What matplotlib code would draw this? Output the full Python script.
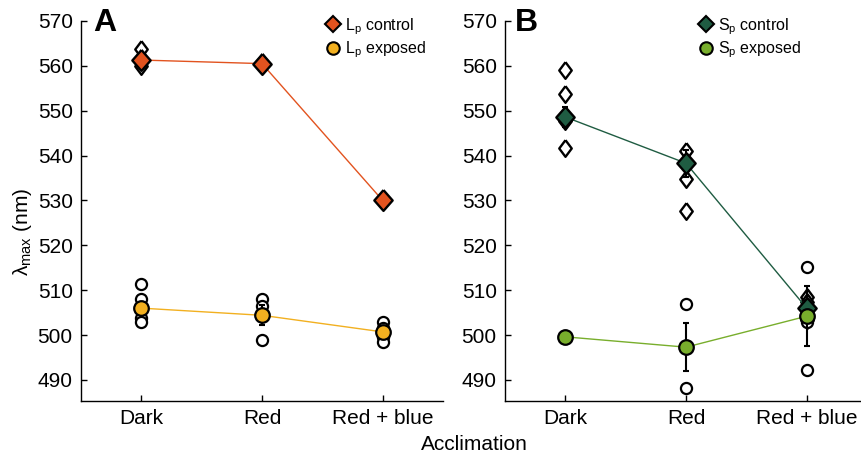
import matplotlib
matplotlib.use("Agg")
import matplotlib.pyplot as plt
from matplotlib.lines import Line2D

plt.rcParams['font.family'] = ['Liberation Sans', 'DejaVu Sans']
plt.rcParams['mathtext.fontset'] = 'custom'
plt.rcParams['mathtext.rm'] = 'Liberation Sans'
plt.rcParams['mathtext.it'] = 'Liberation Sans:italic'

categories = ['Dark', 'Red', 'Red + blue']
yticks = [490, 500, 510, 520, 530, 540, 550, 560, 570]

# Panel A: Lp
lp_control_pts = [[563.7, 561.7, 561.0, 560.0], [560.6, 560.3, 560.8], [530.2, 529.8, 530.0]]
lp_control_mean = [561.3, 560.5, 530.0]
lp_control_err = [0.8, 0.3, 0.2]
lp_exposed_pts = [[511.3, 508.1, 506.1, 503.9, 502.9], [508.1, 506.4, 504.4, 499.0], [502.9, 501.5, 499.5, 498.4]]
lp_exposed_mean = [506.0, 504.4, 500.7]
lp_exposed_err = [1.4, 2.2, 0.9]

# Panel B: Sp
sp_control_pts = [[559.0, 553.7, 548.6, 547.8, 541.6], [541.1, 538.3, 534.7, 527.6], [508.5, 507.4, 505.5, 503.3]]
sp_control_mean = [548.6, 538.3, 506.0]
sp_control_err = [2.2, 3.0, 1.5]
sp_exposed_pts = [[499.8, 499.5, 499.6], [506.9, 497.3, 488.2], [515.1, 504.5, 503.0, 492.3]]
sp_exposed_mean = [499.6, 497.3, 504.2]
sp_exposed_err = [0.3, 5.4, 6.7]

c_lp_ctrl = '#E2531F'
c_lp_exp = '#F2B020'
c_sp_ctrl = '#1F5C42'
c_sp_exp = '#78AE2C'

W, H = 861, 457
fig = plt.figure(figsize=(W / 100, H / 100), dpi=100)

thin_d = [(0, 1), (0.75, 0), (0, -1), (-0.75, 0), (0, 1)]
mean_d = [(0, 1), (0.88, 0), (0, -1), (-0.88, 0), (0, 1)]


def panel(ax, ctrl_pts, ctrl_mean, ctrl_err, exp_pts, exp_mean, exp_err, cc, ce, lab_c, lab_e):
    x = [1, 2, 3]
    for xi, pts in zip(x, ctrl_pts):
        ax.plot([xi] * len(pts), pts, linestyle='none', marker=thin_d, ms=12,
                mfc='white', mec='black', mew=1.7, zorder=2)
    for xi, pts in zip(x, exp_pts):
        ax.plot([xi] * len(pts), pts, linestyle='none', marker='o', ms=8,
                mfc='white', mec='black', mew=1.6, zorder=2)
    ax.errorbar(x, ctrl_mean, yerr=ctrl_err, fmt='none', ecolor='black', elinewidth=1.5,
                capsize=2.5, capthick=1.5, zorder=3)
    ax.errorbar(x, exp_mean, yerr=exp_err, fmt='none', ecolor='black', elinewidth=1.5,
                capsize=2.5, capthick=1.5, zorder=3)
    ax.plot(x, ctrl_mean, color=cc, lw=1, zorder=4)
    ax.plot(x, exp_mean, color=ce, lw=1, zorder=4)
    ax.plot(x, ctrl_mean, linestyle='none', marker=mean_d, ms=15, mfc=cc, mec='black', mew=1.7, zorder=5)
    ax.plot(x, exp_mean, linestyle='none', marker='o', ms=10.5, mfc=ce, mec='black', mew=1.6, zorder=5)

    ax.set_xlim(0.5, 3.5)
    ax.set_ylim(485.3, 570)
    ax.set_xticks(x)
    ax.set_xticklabels(categories)
    ax.set_yticks(yticks)
    ax.tick_params(direction='in', length=4, width=1, labelsize=15, colors='black')
    ax.tick_params(axis='x', pad=6)
    ax.tick_params(axis='y', pad=6)
    for s in ['top', 'right']:
        ax.spines[s].set_visible(False)
    for s in ['left', 'bottom']:
        ax.spines[s].set_linewidth(1)
    handles = [
        Line2D([], [], linestyle='none', marker='D', ms=8, mfc=cc, mec='black', mew=1.5),
        Line2D([], [], linestyle='none', marker='o', ms=9, mfc=ce, mec='black', mew=1.5),
    ]
    ax.legend(handles, [lab_c, lab_e], loc='upper left', bbox_to_anchor=(0.66, 1.03),
              frameon=False, fontsize=11.5, handlelength=0.8, handletextpad=0.35,
              labelspacing=0.2, borderaxespad=0)


axA = fig.add_axes([81 / W, 1 - 401 / H, 362 / W, 380 / H])
axB = fig.add_axes([505 / W, 1 - 401 / H, 362 / W, 380 / H])

panel(axA, lp_control_pts, lp_control_mean, lp_control_err, lp_exposed_pts, lp_exposed_mean,
      lp_exposed_err, c_lp_ctrl, c_lp_exp, 'L$_\\mathrm{p}$ control', 'L$_\\mathrm{p}$ exposed')
panel(axB, sp_control_pts, sp_control_mean, sp_control_err, sp_exposed_pts, sp_exposed_mean,
      sp_exposed_err, c_sp_ctrl, c_sp_exp, 'S$_\\mathrm{p}$ control', 'S$_\\mathrm{p}$ exposed')
axB.legend_.set_bbox_to_anchor((0.52, 1.03))

fig.text(93 / W, 1 - 8 / H, 'A', fontsize=23, fontweight='bold', va='top', ha='left')
fig.text(515 / W, 1 - 8 / H, 'B', fontsize=23, fontweight='bold', va='top', ha='left')
fig.text(474 / W, 1 - 445 / H, 'Acclimation', fontsize=15, ha='center', va='center')
fig.text(22 / W, 1 - 232 / H, 'λ$_\\mathrm{max}$ (nm)', fontsize=15, ha='center', va='center',
         rotation=90)

fig.savefig('out.png', dpi=100)
